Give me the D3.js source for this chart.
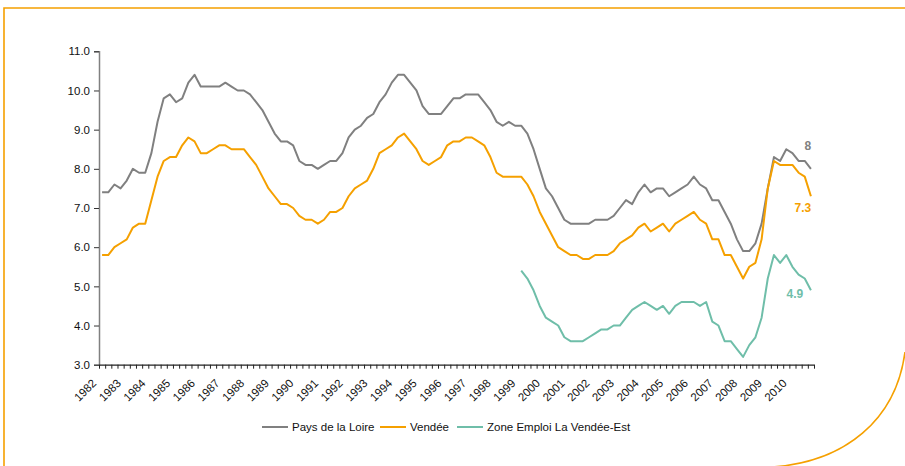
<!DOCTYPE html>
<meta charset="utf-8">
<script src="https://d3js.org/d3.v7.min.js"></script>
<style>
  body { margin: 0; background: #fff; }
  text { font-family: "Liberation Sans", Arial, sans-serif; }
</style>
<div id="chart"></div>
<script>

// years shown on the axis (quarterly data, T1..T4)
const years = d3.range(1982, 2011);
const quarters = ["T1", "T2", "T3", "T4"];

// unemployment rate, Pays de la Loire (1982-T1 .. 2010-T4)
const paysLoire = [
  7.4, 7.4, 7.6, 7.5, 7.7, 8.0, 7.9, 7.9, 8.4, 9.2,
  9.8, 9.9, 9.7, 9.8, 10.2, 10.4, 10.1, 10.1, 10.1, 10.1,
  10.2, 10.1, 10.0, 10.0, 9.9, 9.7, 9.5, 9.2, 8.9, 8.7,
  8.7, 8.6, 8.2, 8.1, 8.1, 8.0, 8.1, 8.2, 8.2, 8.4,
  8.8, 9.0, 9.1, 9.3, 9.4, 9.7, 9.9, 10.2, 10.4, 10.4,
  10.2, 10.0, 9.6, 9.4, 9.4, 9.4, 9.6, 9.8, 9.8, 9.9,
  9.9, 9.9, 9.7, 9.5, 9.2, 9.1, 9.2, 9.1, 9.1, 8.9,
  8.5, 8.0, 7.5, 7.3, 7.0, 6.7, 6.6, 6.6, 6.6, 6.6,
  6.7, 6.7, 6.7, 6.8, 7.0, 7.2, 7.1, 7.4, 7.6, 7.4,
  7.5, 7.5, 7.3, 7.4, 7.5, 7.6, 7.8, 7.6, 7.5, 7.2,
  7.2, 6.9, 6.6, 6.2, 5.9, 5.9, 6.1, 6.6, 7.5, 8.3,
  8.2, 8.5, 8.4, 8.2, 8.2, 8.0
];

// Vendée
const vendee = [
  5.8, 5.8, 6.0, 6.1, 6.2, 6.5, 6.6, 6.6, 7.2, 7.8,
  8.2, 8.3, 8.3, 8.6, 8.8, 8.7, 8.4, 8.4, 8.5, 8.6,
  8.6, 8.5, 8.5, 8.5, 8.3, 8.1, 7.8, 7.5, 7.3, 7.1,
  7.1, 7.0, 6.8, 6.7, 6.7, 6.6, 6.7, 6.9, 6.9, 7.0,
  7.3, 7.5, 7.6, 7.7, 8.0, 8.4, 8.5, 8.6, 8.8, 8.9,
  8.7, 8.5, 8.2, 8.1, 8.2, 8.3, 8.6, 8.7, 8.7, 8.8,
  8.8, 8.7, 8.6, 8.3, 7.9, 7.8, 7.8, 7.8, 7.8, 7.6,
  7.3, 6.9, 6.6, 6.3, 6.0, 5.9, 5.8, 5.8, 5.7, 5.7,
  5.8, 5.8, 5.8, 5.9, 6.1, 6.2, 6.3, 6.5, 6.6, 6.4,
  6.5, 6.6, 6.4, 6.6, 6.7, 6.8, 6.9, 6.7, 6.6, 6.2,
  6.2, 5.8, 5.8, 5.5, 5.2, 5.5, 5.6, 6.2, 7.5, 8.2,
  8.1, 8.1, 8.1, 7.9, 7.8, 7.3
];

// Zone Emploi La Vendée-Est, starts 1999-T1
const vendeeEstStart = "1999-T1";
const vendeeEst = [
  5.4, 5.2, 4.9, 4.5, 4.2, 4.1, 4.0, 3.7, 3.6, 3.6,
  3.6, 3.7, 3.8, 3.9, 3.9, 4.0, 4.0, 4.2, 4.4, 4.5,
  4.6, 4.5, 4.4, 4.5, 4.3, 4.5, 4.6, 4.6, 4.6, 4.5,
  4.6, 4.1, 4.0, 3.6, 3.6, 3.4, 3.2, 3.5, 3.7, 4.2,
  5.2, 5.8, 5.6, 5.8, 5.5, 5.3, 5.2, 4.9
];

const yTicks = [3, 4, 5, 6, 7, 8, 9, 10, 11];
const seriesNames = ["Pays de la Loire", "Vendée", "Zone Emploi La Vendée-Est"];
const colors = ["#808080", "#f5a000", "#6fbea9"];

const W = 905, H = 466;
const mLeft = 99, mRight = 814, mTop = 51.3, mBottom = 364.7;

const categories = years.flatMap(y => quarters.map(q => y + "-" + q));

const svg = d3.select("#chart").append("svg")
  .attr("width", W).attr("height", H);

// orange frame
svg.append("path")
  .attr("d", `M4,${H} L4,8 L${W},8`)
  .attr("fill", "none").attr("stroke", "#f5a000").attr("stroke-width", 1.6);
svg.append("path")
  .attr("d", `M${W},352 C896,420 845,462 772,${H + 1}`)
  .attr("fill", "none").attr("stroke", "#f5a000").attr("stroke-width", 1.6);

const x = d3.scaleBand().domain(categories).range([mLeft, mRight]).padding(0);
const xi = d3.scaleLinear().domain([0, categories.length]).range([mLeft, mRight]);
const y = d3.scaleLinear().domain([3, 11]).range([mBottom, mTop]);
const cx = c => x(c) + x.bandwidth() / 2;

// y axis
const yAxis = svg.append("g")
  .attr("transform", `translate(${mLeft},0)`)
  .call(d3.axisLeft(y).tickValues(yTicks).tickFormat(d3.format(".1f")).tickSize(5).tickPadding(4));
yAxis.select(".domain").attr("stroke", "#808080").attr("stroke-width", 1.5);
yAxis.selectAll(".tick line").attr("stroke", "#333");
yAxis.selectAll(".tick text").attr("fill", "#111").style("font-size", "11.5px")
  .style("font-family", "Liberation Sans, Arial, sans-serif");

// x axis: ticks between quarters
const xAxis = svg.append("g")
  .attr("transform", `translate(0,${mBottom})`)
  .call(d3.axisBottom(xi).tickValues(d3.range(0, categories.length + 1)).tickFormat("").tickSize(4).tickSizeOuter(0));
xAxis.select(".domain").attr("stroke", "#222").attr("stroke-width", 1.3);
xAxis.selectAll(".tick line").attr("stroke", "#222");

// year labels on first quarter
svg.append("g").selectAll("text")
  .data(years)
  .join("text")
    .attr("transform", d => `translate(${cx(d + "-T1") - 5},384) rotate(-45)`)
    .attr("text-anchor", "end")
    .attr("fill", "#111")
    .style("font-size", "11.5px")
    .text(d => d);

// lines
const line = d3.line()
  .x(d => cx(d.c))
  .y(d => y(d.v));

const startIdx = categories.indexOf(vendeeEstStart);
const series = [
  paysLoire.map((v, i) => ({c: categories[i], v})),
  vendee.map((v, i) => ({c: categories[i], v})),
  vendeeEst.map((v, i) => ({c: categories[startIdx + i], v}))
];

svg.append("g").selectAll("path")
  .data(series)
  .join("path")
    .attr("d", line)
    .attr("fill", "none")
    .attr("stroke", (d, i) => colors[i])
    .attr("stroke-width", 2)
    .attr("stroke-linejoin", "round");

// end labels
const endLabels = [
  {s: 0, text: "8", dx: -3, yv: 8.47},
  {s: 1, text: "7.3", dx: -8, yv: 6.9},
  {s: 2, text: "4.9", dx: -16, yv: 4.7}
];
svg.append("g").selectAll("text")
  .data(endLabels)
  .join("text")
    .attr("x", d => cx(series[d.s][series[d.s].length - 1].c) + d.dx)
    .attr("y", d => y(d.yv))
    .attr("text-anchor", "middle")
    .attr("fill", d => colors[d.s])
    .style("font-size", "12px")
    .style("font-weight", "bold")
    .text(d => d.text);

// legend
const legendX = [262, 380, 457];
const lg = svg.append("g").selectAll("g")
  .data(seriesNames)
  .join("g")
    .attr("transform", (d, i) => `translate(${legendX[i]},427)`);
lg.append("line")
  .attr("x1", 0).attr("x2", 26)
  .attr("stroke", (d, i) => colors[i]).attr("stroke-width", 2);
lg.append("text")
  .attr("x", 30).attr("y", 4)
  .attr("fill", "#111")
  .style("font-size", "11.5px")
  .text(d => d);
</script>
